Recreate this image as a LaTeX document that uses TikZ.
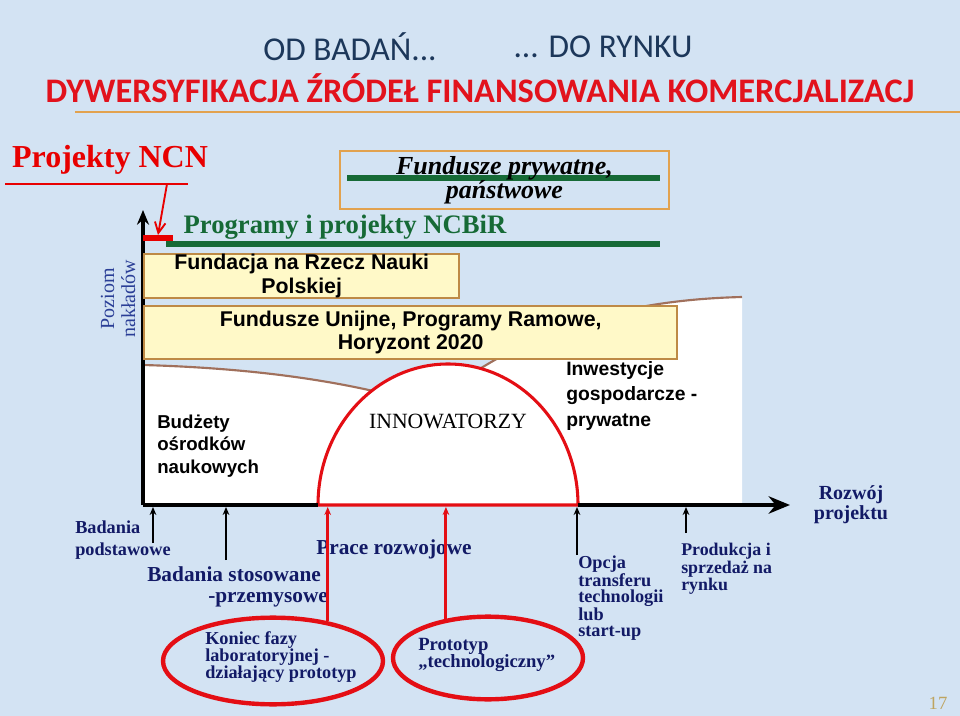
\documentclass[tikz,border=0pt]{standalone}
\usepackage{fontspec}
\setmainfont{Liberation Serif}
\setsansfont{Liberation Sans}
\newfontfamily\slidefont{Carlito}
\usetikzlibrary{arrows.meta,shapes.geometric}

\definecolor{slideblue}{RGB}{211,227,243}
\definecolor{headslate}{RGB}{28,55,90}
\definecolor{headred}{RGB}{226,18,28}
\definecolor{ruleorange}{RGB}{226,162,78}
\definecolor{ncnred}{RGB}{232,0,0}
\definecolor{ncbirgreen}{RGB}{22,106,54}
\definecolor{boxyellow}{RGB}{255,249,200}
\definecolor{boxbrown}{RGB}{190,138,70}
\definecolor{curvebrown}{RGB}{160,112,92}
\definecolor{stagenavy}{RGB}{18,26,102}
\definecolor{axisblue}{RGB}{42,62,150}
\definecolor{ringred}{RGB}{228,14,20}
\definecolor{pagetan}{RGB}{190,164,96}

\tikzstyle{slide title}=[headslate, inner sep=0pt, font=\slidefont\fontsize{25}{30}\selectfont]
\tikzstyle{slide subtitle}=[headred, inner sep=0pt, font=\slidefont\bfseries\fontsize{25.8}{30}\selectfont]
\tikzstyle{fund box}=[draw=boxbrown, fill=boxyellow, line width=1.8pt, anchor=north west, inner sep=0pt, align=center]
\tikzstyle{fund frame}=[draw=ruleorange, line width=1.5pt, anchor=north west, inner sep=0pt, align=center]
\tikzstyle{green bar}=[ncbirgreen, line width=4pt]
\tikzstyle{axis}=[black, line width=3.5pt]
\tikzstyle{fund label}=[inner sep=0pt, anchor=west, align=left, font=\sffamily\bfseries\fontsize{14}{17}\selectfont]
\tikzstyle{stage}=[stagenavy, inner sep=0pt, anchor=west, align=left, font=\bfseries\fontsize{13.7}{12}\selectfont]
\tikzstyle{stage big}=[stagenavy, inner sep=0pt, anchor=west, font=\bfseries\fontsize{16}{18}\selectfont]
\tikzstyle{stage arrow}=[black, line width=2.2pt, -{Stealth[length=6pt, width=5pt]}]
\tikzstyle{red link}=[ringred, line width=2.2pt, -{Stealth[length=6pt, width=5pt]}]
\tikzstyle{proto ring}=[ellipse, draw=ringred, line width=3.3pt, inner sep=0pt]

\begin{document}
\begin{tikzpicture}[x=0.75pt, y=-0.75pt]
	\fill[slideblue] (0,0) rectangle (960,716);
	\useasboundingbox (0,0) rectangle (960,716);

	\node[slide title] (od badan) at (350,47) {OD BADAŃ...};
	\node[slide title] (do rynku) at (603,47) {... DO RYNKU};
	\node[slide subtitle] (dywers) at (480,88) {DYWERSYFIKACJA ŹRÓDEŁ FINANSOWANIA KOMERCJALIZACJ};
	\coordinate (rule l) at (75,112);
	\coordinate (rule r) at (960,112);
	\draw[ruleorange, line width=1.6pt] (rule l) -- (rule r);

	\coordinate (O) at (143,505);
	\coordinate (Y) at (143,210);
	\coordinate (X) at (790,505);
	\coordinate (S1) at (318,505);
	\coordinate (S2) at (578,505);
	\coordinate (P1) at (143,365);
	\coordinate (P2) at (390,395);
	\coordinate (P3) at (470,375);
	\coordinate (P4) at (742,297);
	\coordinate (P5) at (742,505);

	\fill[white] (O) -- (P1) .. controls (250,368) and (330,380) .. (P2) -- (P3) .. controls (540,330) and (620,300) .. (P4) -- (P5) -- cycle;
	\draw[curvebrown, line width=1.6pt] (P1) .. controls (250,368) and (330,380) .. (P2) -- (P3) .. controls (540,330) and (620,300) .. (P4);
	\filldraw[fill=white, draw=ringred, line width=2.3pt] (S1) arc[start angle=180, end angle=0, x radius=97.5pt, y radius=105.75pt] -- cycle;
	\draw[axis, -{Stealth[length=11pt, width=9pt]}] (O) -- (Y);
	\draw[axis] (O) -- (S1);
	\draw[axis, -{Stealth[length=16pt, width=13pt]}] (S2) -- (X);

	\node[fund box, minimum width=236.25pt, minimum height=33pt, font=\sffamily\bfseries\fontsize{16}{18}\selectfont] (fnp) at (143,253) {Fundacja na Rzecz Nauki\\Polskiej};
	\node[fund box, minimum width=399.75pt, minimum height=39.75pt, font=\sffamily\bfseries\fontsize{16}{17.25}\selectfont] (unijne) at (143,305) {Fundusze Unijne, Programy Ramowe,\\Horyzont 2020};

	\coordinate (G1) at (347,178);
	\coordinate (G2) at (660,178);
	\coordinate (G3) at (166,244);
	\coordinate (G4) at (660,244);
	\draw[green bar] (G1) -- (G2);
	\draw[green bar] (G3) -- (G4);
	\node[fund frame, minimum width=246.75pt, minimum height=43.5pt, font=\bfseries\itshape\fontsize{19.5}{18}\selectfont] (prywatne) at (339,150) {Fundusze prywatne,\\państwowe};
	\node[ncbirgreen, inner sep=0pt, font=\bfseries\fontsize{20}{24}\selectfont] (ncbir) at (345,227) {Programy i projekty NCBiR};

	\node[ncnred, inner sep=0pt, font=\bfseries\fontsize{24}{28}\selectfont] (ncn) at (110,160) {Projekty NCN};
	\coordinate (ncn l) at (5,184);
	\coordinate (ncn r) at (188,184);
	\coordinate (ncn drop) at (167,184);
	\coordinate (bar l) at (143,238);
	\coordinate (bar r) at (173,238);
	\coordinate (bar mid) at (158,235);
	\draw[ncnred, line width=1.2pt] (ncn l) -- (ncn r);
	\draw[ncnred, line width=4pt] (bar l) -- (bar r);
	\draw[ncnred, line width=1.4pt, -{Straight Barb[length=8pt, width=8pt]}] (ncn drop) -- (bar mid);

	\node[axisblue, rotate=90, align=center, inner sep=0pt, font=\fontsize{15}{15.75}\selectfont] (poziom) at (118,299) {Poziom\\nakładów};

	\node[fund label, font=\sffamily\bfseries\fontsize{14}{16.9}\selectfont] (budzety) at (157,446) {Budżety\\ośrodków\\naukowych};
	\node[fund label, font=\sffamily\bfseries\fontsize{14.5}{19}\selectfont] (inwest) at (566,396) {Inwestycje\\gospodarcze -\\prywatne};
	\node[inner sep=0pt, font=\fontsize{16.3}{18}\selectfont] (innow) at (448,421) {INNOWATORZY};

	\node[stage, font=\bfseries\fontsize{13.7}{16.5}\selectfont] (bpod) at (75,540) {Badania\\podstawowe};
	\node[stage big] (bstos) at (147,574) {Badania stosowane};
	\node[stage big] (bprzem) at (208,600) {-przemysowe};
	\node[stage big] (prace) at (316,549) {Prace rozwojowe};
	\node[proto ring, minimum width=165pt, minimum height=65pt] (proto1) at (273,661) {};
	\node[stage, font=\bfseries\fontsize{13.7}{12.75}\selectfont] (proto1 text) at (205,657) {Koniec fazy\\laboratoryjnej -\\działający prototyp};
	\node[proto ring, minimum width=142.5pt, minimum height=62pt] (proto2) at (488,658) {};
	\node[stage, font=\bfseries\fontsize{14}{12.75}\selectfont] (proto2 text) at (418,655) {Prototyp\\„technologiczny”};
	\node[stage, font=\bfseries\fontsize{13.7}{12.2}\selectfont] (opcja) at (578,598) {Opcja\\transferu\\technologii\\lub\\start-up};
	\node[stage, font=\bfseries\fontsize{13.4}{11.8}\selectfont] (produkcja) at (681,569) {Produkcja i\\sprzedaż na\\rynku};
	\node[stagenavy, align=center, inner sep=0pt, font=\bfseries\fontsize{15}{15}\selectfont] (rozwoj) at (851,505) {Rozwój\\projektu};

	\coordinate (bp) at (153,507);
	\coordinate (bp foot) at (153,543);
	\coordinate (bs) at (226,507);
	\coordinate (bs foot) at (226,560);
	\coordinate (t1) at (326,507);
	\coordinate (t2) at (447,507);
	\coordinate (op) at (577,507);
	\coordinate (op foot) at (577,555);
	\coordinate (pr) at (686,507);
	\coordinate (pr foot) at (686,533);
	\draw[stage arrow] (bp foot) -- (bp);
	\draw[stage arrow] (bs foot) -- (bs);
	\draw[stage arrow] (op foot) -- (op);
	\draw[stage arrow] (pr foot) -- (pr);
	\draw[red link] (proto1.36) -- (proto1.36 |- t1);
	\draw[red link] (proto2.137) -- (proto2.137 |- t2);

	\node[pagetan, inner sep=0pt, font=\fontsize{14}{14}\selectfont] (slide no) at (938,703) {17};
\end{tikzpicture}
\end{document}
